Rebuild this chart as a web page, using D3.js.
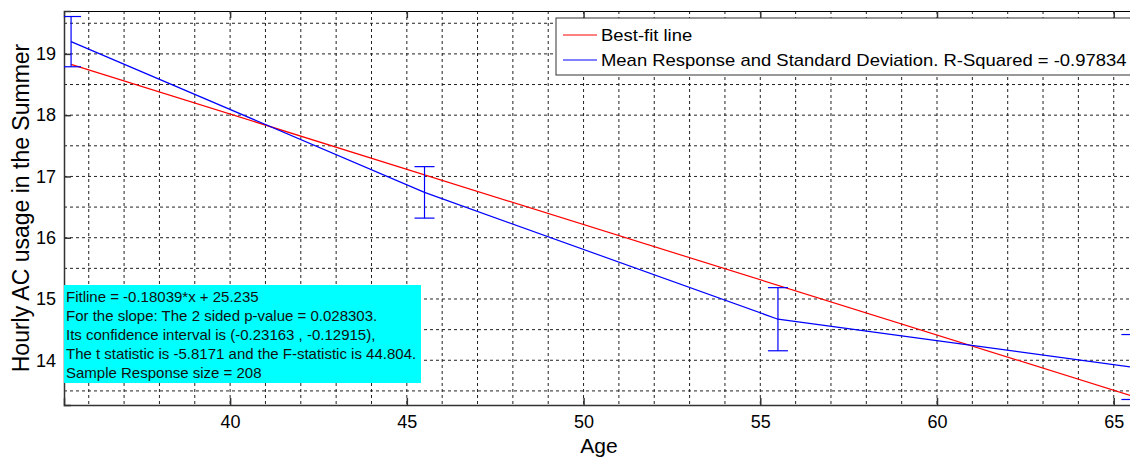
<!DOCTYPE html>
<html><head><meta charset="utf-8">
<script src="https://cdn.jsdelivr.net/npm/d3@7"></script>
<style>body{margin:0;background:#fff;} text{font-family:"Liberation Sans",Arial,sans-serif;}</style>
</head><body><svg id="c" width="1130" height="457"></svg>
<script>
// ---- data ----
const ages = [35.5, 45.5, 55.5, 65.5];
const meanResponse = [19.2, 16.74, 14.67, 13.89];
const stdDev = [0.41, 0.42, 0.515, 0.53];
const fitAges = [35.5, 65.5];
const fitValues = [18.83, 13.42];
const xTicks = [40, 45, 50, 55, 60, 65];
const yTicks = [14, 15, 16, 17, 18, 19];
const xGrid = d3.range(36, 66, 1);
const yGrid = d3.range(13.5, 20, 0.5);
const legendLabels = ["Best-fit line", "Mean Response and Standard Deviation. R-Squared = -0.97834"];
const infoLines = [
  "Fitline = -0.18039*x + 25.235",
  "For the slope: The 2 sided p-value = 0.028303.",
  "Its confidence interval is (-0.23163 , -0.12915),",
  "The t statistic is -5.8171 and the F-statistic is 44.804.",
  "Sample Response size = 208"
];

const svg = d3.select("#c");
const L = 64, T = 11, B = 405, R = 1142;
const x = d3.scaleLinear().domain([35.3, 65.8]).range([L, R]);
const y = d3.scaleLinear().domain([13.27, 19.70]).range([B, T]);

svg.append("defs").append("clipPath").attr("id","clip")
  .append("rect").attr("x",L).attr("y",T).attr("width",R-L).attr("height",B-T);

// gridlines
const g = svg.append("g");
g.selectAll(".vg").data(xGrid).join("line")
  .attr("x1",d=>x(d)).attr("x2",d=>x(d)).attr("y1",T).attr("y2",B)
  .attr("stroke","#222").attr("stroke-width",1).attr("stroke-dasharray","3,3");
g.selectAll(".hg").data(yGrid).join("line")
  .attr("x1",L).attr("x2",R).attr("y1",d=>y(d)).attr("y2",d=>y(d))
  .attr("stroke","#222").attr("stroke-width",1).attr("stroke-dasharray","3,3");

// axes
const xAxis = d3.axisBottom(x).tickValues(xTicks).tickSize(-7).tickPadding(10).tickFormat(d3.format("d"));
const xg = svg.append("g").attr("transform",`translate(0,${B})`).call(xAxis);
const xTop = d3.axisTop(x).tickValues(xTicks).tickSize(-7).tickFormat("");
const xtg = svg.append("g").attr("transform",`translate(0,${T})`).call(xTop);
const yAxis = d3.axisLeft(y).tickValues(yTicks).tickSize(-7).tickPadding(8).tickFormat(d3.format("d"));
const yg = svg.append("g").attr("transform",`translate(${L},0)`).call(yAxis);
[xg,xtg,yg].forEach(a=>{
  a.select(".domain").attr("stroke","#333").attr("stroke-width",1.5);
  a.selectAll(".tick line").attr("stroke","#333").attr("stroke-width",1.5);
  a.selectAll(".tick text").attr("font-size",18).attr("fill","#000")
   .attr("font-family","'Liberation Sans',Arial,sans-serif");
});
xtg.select(".domain").attr("stroke","#000").attr("stroke-width",1.2);

// series
const plot = svg.append("g").attr("clip-path","url(#clip)");
const line = d3.line().x(d=>x(d[0])).y(d=>y(d[1]));
plot.append("path").datum(fitAges.map((a,i)=>[a,fitValues[i]]))
  .attr("d",line).attr("fill","none").attr("stroke","#ff0000").attr("stroke-width",1.2);
plot.append("path").datum(ages.map((a,i)=>[a,meanResponse[i]]))
  .attr("d",line).attr("fill","none").attr("stroke","#0000ff").attr("stroke-width",1.2);
const eb = plot.selectAll(".eb").data(ages.map((a,i)=>({a,m:meanResponse[i],s:stdDev[i]}))).join("g");
eb.append("line").attr("x1",d=>x(d.a)).attr("x2",d=>x(d.a))
  .attr("y1",d=>y(d.m+d.s)).attr("y2",d=>y(d.m-d.s)).attr("stroke","#0000ff").attr("stroke-width",1.2);
["top","bot"].forEach(k=>{
  eb.append("line").attr("x1",d=>x(d.a)-10).attr("x2",d=>x(d.a)+10)
    .attr("y1",d=>y(k==="top"?d.m+d.s:d.m-d.s)).attr("y2",d=>y(k==="top"?d.m+d.s:d.m-d.s))
    .attr("stroke","#0000ff").attr("stroke-width",1.2);
});

// legend
const lg = svg.append("g");
lg.append("rect").attr("x",556).attr("y",18).attr("width",600).attr("height",57)
  .attr("fill","#fff").attr("stroke","#333").attr("stroke-width",1);
const lcol = ["#ff0000","#0000ff"];
legendLabels.forEach((t,i)=>{
  const cy = 35 + i*25;
  lg.append("line").attr("x1",563).attr("x2",597).attr("y1",cy).attr("y2",cy)
    .attr("stroke",lcol[i]).attr("stroke-width",1);
  const tx = lg.append("text").attr("x",601).attr("y",cy+6).attr("font-size",17).attr("fill","#000").text(t);
  const w = tx.node().getComputedTextLength();
  tx.attr("textLength", w*1.085).attr("lengthAdjust","spacingAndGlyphs");
});

// info box
const ib = svg.append("g");
ib.append("rect").attr("x",64).attr("y",285).attr("width",357).attr("height",98).attr("fill","#00ffff");
infoLines.forEach((t,i)=>{
  ib.append("text").attr("x",66).attr("y",302+i*19).attr("font-size",15).attr("fill","#111").text(t);
});

// axis titles
svg.append("text").attr("x",599).attr("y",453).attr("text-anchor","middle")
  .attr("font-size",21).attr("fill","#000").text("Age");
svg.append("text").attr("transform",`translate(29,${(T+B)/2}) rotate(-90)`).attr("text-anchor","middle")
  .attr("font-size",23).attr("fill","#000").text("Hourly AC usage in the Summer");
</script></body></html>
